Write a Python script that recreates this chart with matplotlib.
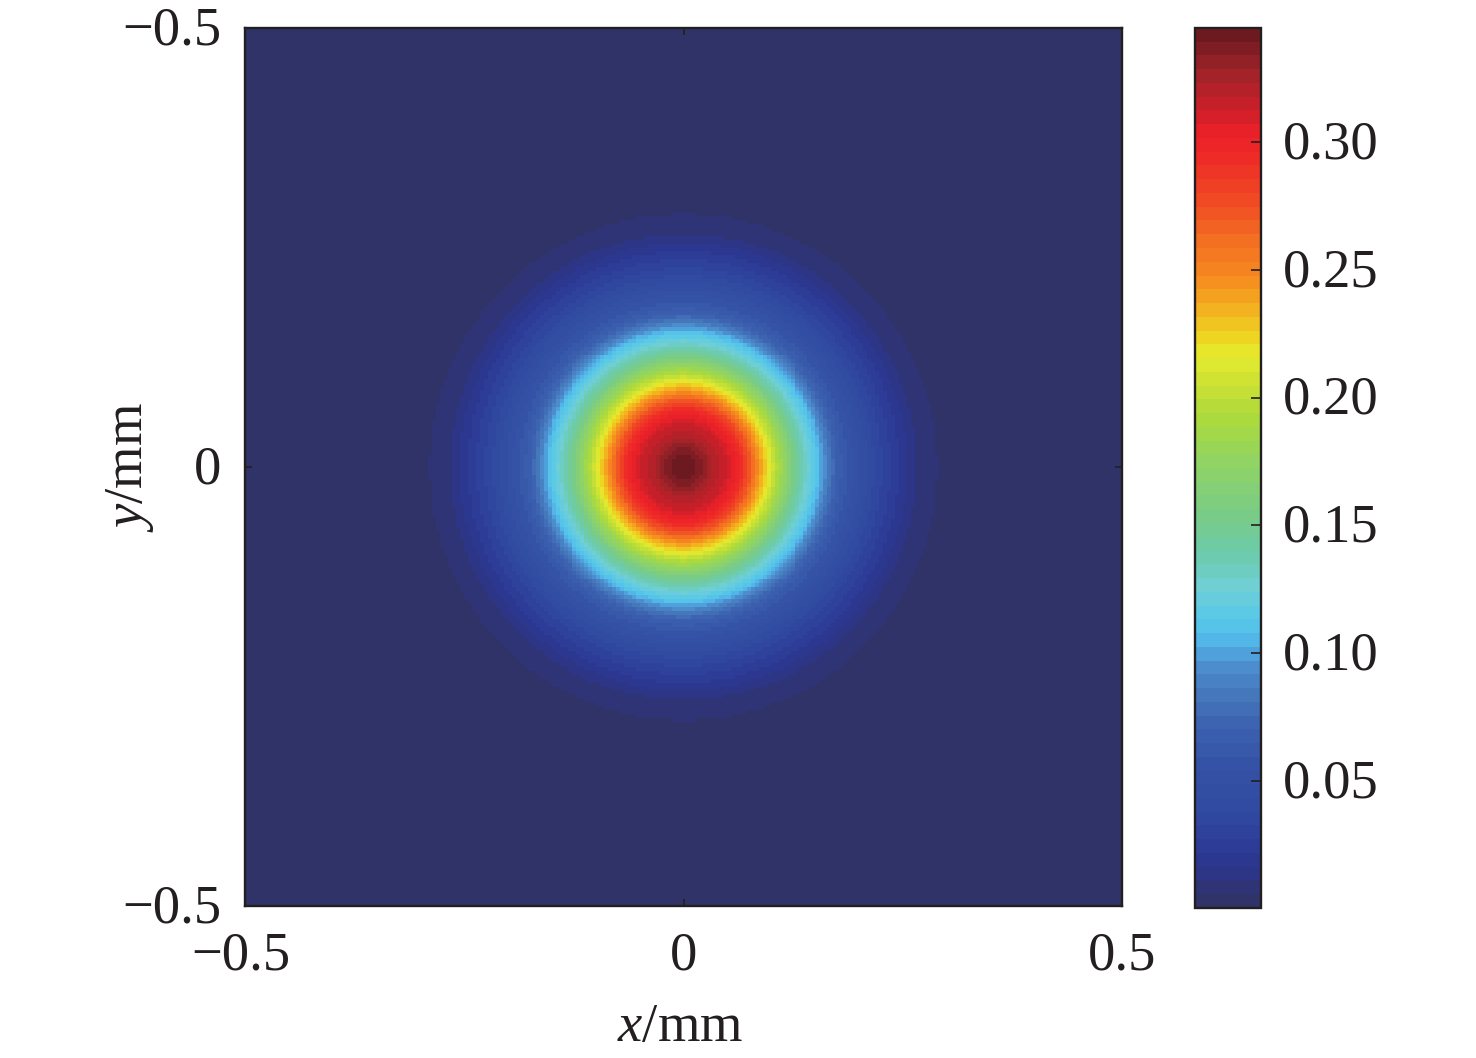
import numpy as np
import matplotlib
matplotlib.use("Agg")
import matplotlib.pyplot as plt
from matplotlib.colors import LinearSegmentedColormap, Normalize
from matplotlib.transforms import ScaledTranslation

plt.rcParams['font.family'] = ['Liberation Serif', 'DejaVu Serif']
plt.rcParams['mathtext.fontset'] = 'custom'
plt.rcParams['mathtext.rm'] = 'Liberation Serif'
plt.rcParams['mathtext.it'] = 'Liberation Serif:italic'

# radial intensity profile
radius_mm = [0.000, 0.018, 0.034, 0.050, 0.065, 0.075, 0.085, 0.098, 0.110, 0.127, 0.142, 0.155,
             0.163, 0.172, 0.182, 0.200, 0.220, 0.245, 0.265, 0.289, 0.290, 0.800]
intensity = [0.344, 0.338, 0.322, 0.312, 0.295, 0.274, 0.247, 0.215, 0.187, 0.152, 0.126, 0.106,
             0.090, 0.073, 0.063, 0.050, 0.036, 0.022, 0.0112, 0.0058, 0.0003, 0.0003]

x_ticks = [-0.5, 0, 0.5]
x_labels = ['\u22120.5', '0', '0.5']
y_ticks = [-0.5, 0, 0.5]
y_labels = ['\u22120.5', '0', '\u22120.5']
cbar_ticks = [0.05, 0.10, 0.15, 0.20, 0.25, 0.30]
cbar_labels = ['0.05', '0.10', '0.15', '0.20', '0.25', '0.30']
v_min, v_max = 0.0003, 0.3446

cmap_stops = [
    (0.000, '#2f3368'), (0.006, '#2e3476'), (0.012, '#2d3588'), (0.020, '#2c3a96'),
    (0.035, '#3049a0'), (0.055, '#3553a6'), (0.070, '#3c62b0'), (0.082, '#4577bb'),
    (0.095, '#4e90d0'), (0.103, '#51b4e8'), (0.112, '#58c8ea'), (0.125, '#6fcfd6'),
    (0.140, '#6dcba6'), (0.155, '#7bcc84'), (0.172, '#8dd36a'), (0.190, '#a8d940'),
    (0.205, '#c9e034'), (0.217, '#e6ec2e'), (0.225, '#eed321'), (0.235, '#f3b320'),
    (0.248, '#f68b1f'), (0.262, '#f37021'), (0.278, '#f04b24'), (0.295, '#ee2b27'),
    (0.305, '#ec2028'), (0.316, '#c92029'), (0.330, '#9d2329'), (0.3446, '#6c1a1f'),
]

W, H = 1476, 1058
fig = plt.figure(figsize=(W / 100, H / 100), dpi=100, facecolor='white')

def box(l, t, r, b):
    return [l / W, 1 - b / H, (r - l) / W, (b - t) / H]

stops = [((v - v_min) / (v_max - v_min) if v > v_min else 0.0, c) for v, c in cmap_stops]
stops[-1] = (1.0, stops[-1][1])
cmap = LinearSegmentedColormap.from_list('print_jet', stops, N=64)
norm = Normalize(v_min, v_max)

edges = np.linspace(-0.5, 0.5, 221)
mid = 0.5 * (edges[:-1] + edges[1:])
X, Y = np.meshgrid(mid, mid)
Z = np.interp(np.hypot(X, Y), radius_mm, intensity)

ink = '#231f20'
fs = 39.3
ax = fig.add_axes(box(245, 28, 1122, 906))
mesh = ax.pcolormesh(edges, edges, Z, cmap=cmap, norm=norm, shading='flat', rasterized=True)
ax.set_xlim(-0.5, 0.5)
ax.set_ylim(-0.5, 0.5)
ax.set_xticks(x_ticks, x_labels)
ax.set_yticks(y_ticks, y_labels)
ax.tick_params(axis='both', direction='in', length=5, width=1.2, color=ink, labelcolor=ink,
               labelsize=fs, top=True, right=True)
ax.tick_params(axis='x', pad=18)
ax.tick_params(axis='y', pad=17)
ax.set_xlabel(r'$x$/mm', fontsize=fs, color=ink, labelpad=15)
ax.xaxis.label.set_x(0.4965)
ax.set_ylabel(r'$y$/mm', fontsize=fs, color=ink, labelpad=-24)
for s in ax.spines.values():
    s.set_linewidth(1.7)
    s.set_color(ink)

cax = fig.add_axes(box(1195, 28, 1261, 908))
cb = fig.colorbar(mesh, cax=cax)
cb.set_ticks(cbar_ticks, labels=cbar_labels)
cb.minorticks_off()
cax.tick_params(axis='y', direction='in', length=7, width=1.2, color=ink, labelcolor=ink,
                labelsize=fs, pad=16)
cb.outline.set_linewidth(1.7)
cb.outline.set_edgecolor(ink)

# nudge the vertical-axis labels to where the reference sets them
nudge = ScaledTranslation(0, 3 / 100, fig.dpi_scale_trans)
for label in list(ax.get_yticklabels()) + list(cax.get_yticklabels()):
    label.set_transform(label.get_transform() + nudge)
nudge_x = ScaledTranslation(-4 / 100, 0, fig.dpi_scale_trans)
for label in ax.get_xticklabels()[:1]:
    label.set_transform(label.get_transform() + nudge_x)

fig.savefig('out.png', dpi=100)
